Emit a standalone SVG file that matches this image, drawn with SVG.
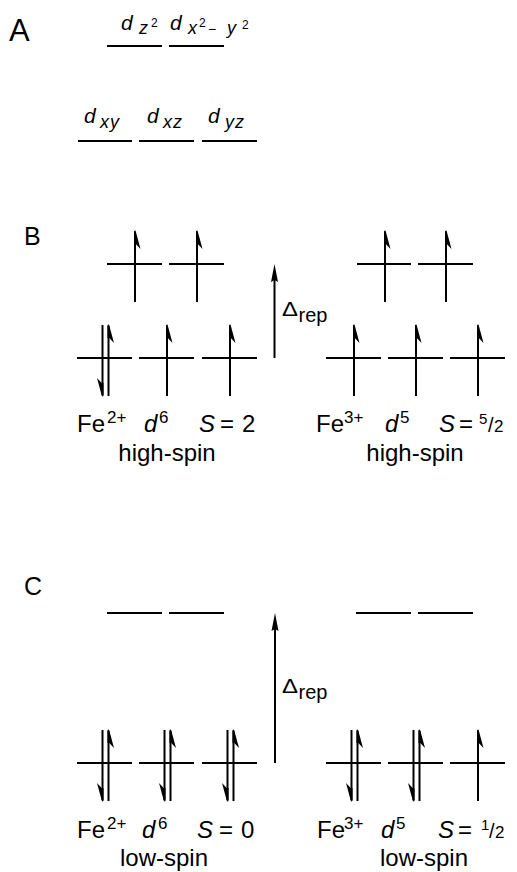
<svg xmlns="http://www.w3.org/2000/svg" width="517" height="872" viewBox="0 0 517 872">
<style>
.t{font-family:"Liberation Sans",Arial,sans-serif;fill:#000}
.i{font-style:italic}
.sup{font-size:17px}
.lv{stroke:#000;stroke-width:2;fill:none}
.sh{stroke:#000;stroke-width:2}
.hd{fill:#000;stroke:none}
</style>
<defs>
<g id="eu"><line class="sh" x1="0" y1="1" x2="0" y2="71"/><path class="hd" d="M-1,0 L0.5,-0.5 L5.5,18 L0.8,13 L-1,13 Z"/></g>
<g id="ed"><line class="sh" x1="0" y1="-1" x2="0" y2="-71"/><path class="hd" d="M1,0 L-0.5,0.5 L-5.5,-18 L-0.8,-13 L1,-13 Z"/></g>
</defs>
<rect width="517" height="872" fill="#fff"/>

<g id="panelA">
<text class="t" x="9" y="41" font-size="31">A</text>
<g id="dz2">
<line class="lv" x1="107" y1="46" x2="162" y2="46"/>
<text class="t i" x="121" y="30" font-size="21">d</text>
<text class="t i" x="139" y="34" font-size="18">z</text>
<text class="t" x="151" y="27" font-size="12">2</text>
</g>
<g id="dx2y2">
<line class="lv" x1="169" y1="46" x2="224" y2="46"/>
<text class="t i" x="170" y="30" font-size="21">d</text>
<text class="t i" x="188" y="34" font-size="18">x</text>
<text class="t" x="199" y="27" font-size="12">2</text>
<text class="t" x="208" y="34" font-size="14">−</text>
<text class="t i" x="227" y="34" font-size="18">y</text>
<text class="t" x="242" y="29" font-size="12">2</text>
</g>
<g id="dxy">
<line class="lv" x1="78" y1="141" x2="132" y2="141"/>
<text class="t i" x="84" y="123" font-size="21">d</text>
<text class="t i" x="100" y="128" font-size="18" letter-spacing="1">xy</text>
</g>
<g id="dxz">
<line class="lv" x1="139" y1="141" x2="194" y2="141"/>
<text class="t i" x="147" y="123" font-size="21">d</text>
<text class="t i" x="163" y="128" font-size="18" letter-spacing="1">xz</text>
</g>
<g id="dyz">
<line class="lv" x1="202" y1="141" x2="257" y2="141"/>
<text class="t i" x="208" y="123" font-size="21">d</text>
<text class="t i" x="225" y="128" font-size="18" letter-spacing="1">yz</text>
</g>
</g>

<g id="panelB">
<text class="t" x="24" y="245" font-size="25">B</text>
<g id="B-fe2-levels">
<line class="lv" x1="107" y1="264" x2="162" y2="264"/>
<line class="lv" x1="169" y1="264" x2="224" y2="264"/>
<line class="lv" x1="77" y1="358" x2="132" y2="358"/>
<line class="lv" x1="139" y1="358" x2="194" y2="358"/>
<line class="lv" x1="202" y1="358" x2="257" y2="358"/>
<use href="#eu" x="135" y="231"/>
<use href="#eu" x="197" y="231"/>
<use href="#ed" x="102.5" y="396"/>
<use href="#eu" x="108.5" y="325"/>
<use href="#eu" x="167" y="325"/>
<use href="#eu" x="230" y="325"/>
</g>
<g id="B-fe3-levels">
<line class="lv" x1="357" y1="264" x2="411" y2="264"/>
<line class="lv" x1="418" y1="264" x2="473" y2="264"/>
<line class="lv" x1="326" y1="358" x2="381" y2="358"/>
<line class="lv" x1="388" y1="358" x2="443" y2="358"/>
<line class="lv" x1="450" y1="358" x2="505" y2="358"/>
<use href="#eu" x="385" y="231"/>
<use href="#eu" x="446" y="231"/>
<use href="#eu" x="354" y="325"/>
<use href="#eu" x="416" y="325"/>
<use href="#eu" x="478" y="325"/>
</g>
<g id="B-delta">
<line class="sh" x1="274.5" y1="275" x2="274.5" y2="358"/>
<path class="hd" d="M274.5,264 L278,282 L274.5,280 L271,282 Z"/>
<text class="t" x="282" y="316" font-size="20" textLength="16" lengthAdjust="spacingAndGlyphs">Δ</text>
<text class="t" x="298.5" y="322" font-size="20">rep</text>
</g>
<g id="B-labels">
<text class="t" x="77" y="432" font-size="24">Fe</text>
<text class="t sup" x="107" y="423">2+</text>
<text class="t i" x="144" y="432" font-size="24">d</text>
<text class="t sup" x="159" y="423">6</text>
<text class="t i" x="199" y="432" font-size="24">S</text>
<text class="t" x="220" y="432" font-size="24">=</text>
<text class="t" x="242" y="432" font-size="24">2</text>
<text class="t" x="167" y="461" font-size="24" text-anchor="middle">high-spin</text>
<text class="t" x="316" y="432" font-size="24">Fe</text>
<text class="t sup" x="344" y="423">3+</text>
<text class="t i" x="385" y="432" font-size="24">d</text>
<text class="t sup" x="400" y="423">5</text>
<text class="t i" x="439" y="432" font-size="24">S</text>
<text class="t" x="459" y="432" font-size="24">=</text>
<text class="t" x="479" y="424" font-size="15">5</text>
<text class="t" x="488" y="432" font-size="20">/</text>
<text class="t" x="494" y="432" font-size="17">2</text>
<text class="t" x="415" y="461" font-size="24" text-anchor="middle">high-spin</text>
</g>
</g>

<g id="panelC">
<text class="t" x="24" y="595" font-size="25">C</text>
<g id="C-fe2-levels">
<line class="lv" x1="107" y1="613" x2="162" y2="613"/>
<line class="lv" x1="169" y1="613" x2="224" y2="613"/>
<line class="lv" x1="77" y1="763" x2="132" y2="763"/>
<line class="lv" x1="139" y1="763" x2="194" y2="763"/>
<line class="lv" x1="202" y1="763" x2="257" y2="763"/>
<use href="#ed" x="102.5" y="801"/>
<use href="#eu" x="108.5" y="730"/>
<use href="#ed" x="164.5" y="801"/>
<use href="#eu" x="170.5" y="730"/>
<use href="#ed" x="227.5" y="801"/>
<use href="#eu" x="233.5" y="730"/>
</g>
<g id="C-fe3-levels">
<line class="lv" x1="356" y1="613" x2="411" y2="613"/>
<line class="lv" x1="418" y1="613" x2="473" y2="613"/>
<line class="lv" x1="326" y1="763" x2="381" y2="763"/>
<line class="lv" x1="388" y1="763" x2="443" y2="763"/>
<line class="lv" x1="450" y1="763" x2="505" y2="763"/>
<use href="#ed" x="351.5" y="801"/>
<use href="#eu" x="357.5" y="730"/>
<use href="#ed" x="413.5" y="801"/>
<use href="#eu" x="419.5" y="730"/>
<use href="#eu" x="478" y="730"/>
</g>
<g id="C-delta">
<line class="sh" x1="275" y1="624" x2="275" y2="763"/>
<path class="hd" d="M275,613 L278.5,631 L275,629 L271.5,631 Z"/>
<text class="t" x="282" y="693" font-size="20" textLength="16" lengthAdjust="spacingAndGlyphs">Δ</text>
<text class="t" x="298.5" y="699" font-size="20">rep</text>
</g>
<g id="C-labels">
<text class="t" x="77" y="838" font-size="24">Fe</text>
<text class="t sup" x="107" y="829">2+</text>
<text class="t i" x="142" y="838" font-size="24">d</text>
<text class="t sup" x="158" y="829">6</text>
<text class="t i" x="197" y="838" font-size="24">S</text>
<text class="t" x="219" y="838" font-size="24">=</text>
<text class="t" x="241" y="838" font-size="24">0</text>
<text class="t" x="164" y="866" font-size="24" text-anchor="middle">low-spin</text>
<text class="t" x="317" y="838" font-size="24">Fe</text>
<text class="t sup" x="344" y="829">3+</text>
<text class="t i" x="381" y="838" font-size="24">d</text>
<text class="t sup" x="396" y="829">5</text>
<text class="t i" x="438" y="838" font-size="24">S</text>
<text class="t" x="458" y="838" font-size="24">=</text>
<text class="t" x="481" y="830" font-size="15">1</text>
<text class="t" x="489" y="838" font-size="20">/</text>
<text class="t" x="495" y="838" font-size="17">2</text>
<text class="t" x="424" y="866" font-size="24" text-anchor="middle">low-spin</text>
</g>
</g>
</svg>
